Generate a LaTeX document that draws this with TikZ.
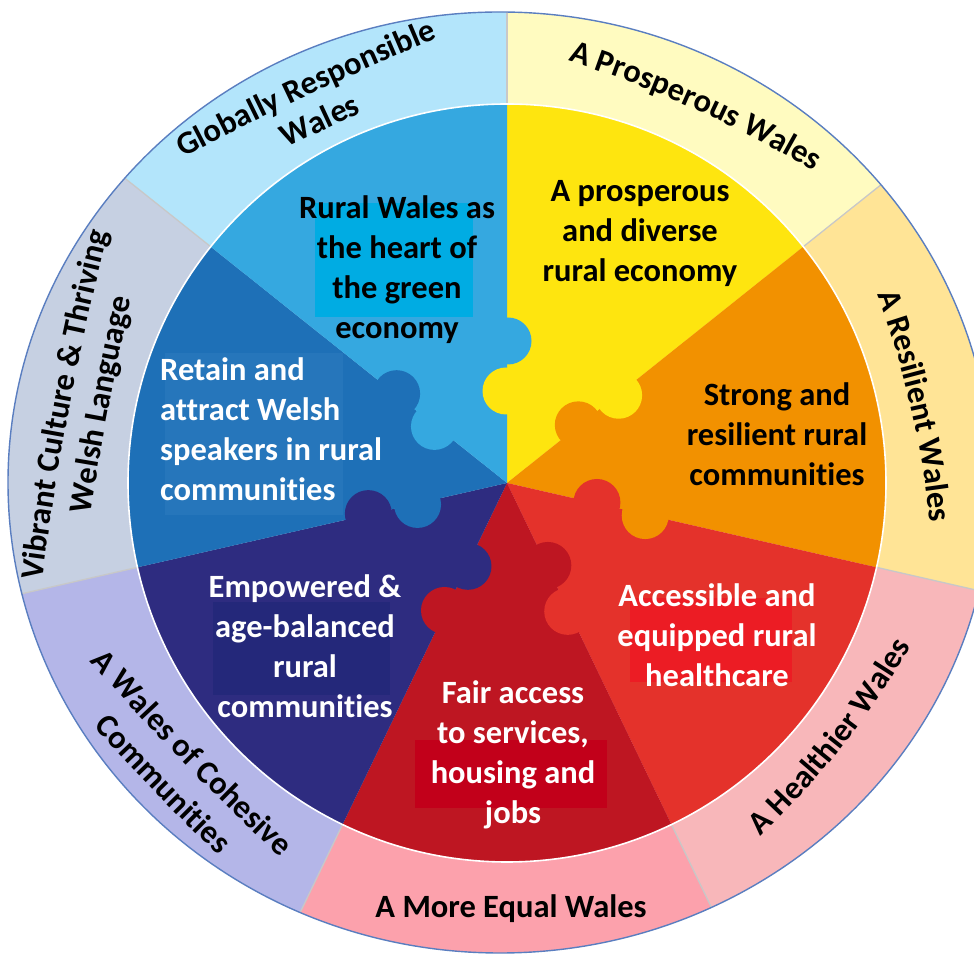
\documentclass[tikz,border=0pt]{standalone}
\usepackage{fontspec}
\setmainfont{Carlito}[Ligatures=NoCommon]
\usetikzlibrary{calc,decorations.text}

\definecolor{rGlob}{HTML}{B3E5FB}
\definecolor{rPros}{HTML}{FFFBC0}
\definecolor{rResil}{HTML}{FFE496}
\definecolor{rHealth}{HTML}{F8B7BA}
\definecolor{rEqual}{HTML}{FCA1AC}
\definecolor{rCohes}{HTML}{B4B6E8}
\definecolor{rVibr}{HTML}{C6D0E2}
\definecolor{pLB}{HTML}{35A8E0}
\definecolor{pYel}{HTML}{FEE50F}
\definecolor{pOra}{HTML}{F29100}
\definecolor{pRed}{HTML}{E4322B}
\definecolor{pDRed}{HTML}{BE1622}
\definecolor{pNavy}{HTML}{2E2C80}
\definecolor{pBlue}{HTML}{1E70B7}
\definecolor{bLB}{HTML}{00ACE3}
\definecolor{bRed}{HTML}{EC1C24}
\definecolor{bDRed}{HTML}{C2001A}
\definecolor{bNavy}{HTML}{24287A}
\definecolor{bBlue}{HTML}{2676BB}
\definecolor{sepgrey}{HTML}{C8C8C8}
\definecolor{ringline}{HTML}{5A7EC0}

\newcommand\ringfont{\bfseries\fontsize{32.5}{36}\selectfont}
% text along a gently curved arc: centre (x,y), direction phi, curvature radius rho
% \rtR : tops pointing outwards (path turns right), \rtL : tops pointing inwards
\newcommand\rtR[5]{%
  \pgfmathsetmacro\rtD{330/#4*57.2958}%
  \path[decorate,decoration={text along path,text align=center,text={|\ringfont|#5}}]
    ($(#1,#2)+({#3-90}:#4)+({#3+90+\rtD}:#4)$)
    arc[start angle={#3+90+\rtD},end angle={#3+90-\rtD},radius=#4pt];}
\newcommand\rtL[5]{%
  \pgfmathsetmacro\rtD{330/#4*57.2958}%
  \path[decorate,decoration={text along path,text align=center,text={|\ringfont|#5}}]
    ($(#1,#2)+({#3+90}:#4)+({#3-90-\rtD}:#4)$)
    arc[start angle={#3-90-\rtD},end angle={#3-90+\rtD},radius=#4pt];}

\tikzset{
  itext/.style={font=\bfseries\fontsize{32.5}{40}\selectfont, align=center, inner sep=0pt},
  sepline/.style={draw=sepgrey, line width=1.3pt},
  outline/.style={draw=ringline, line width=1.4pt}
}

\begin{document}
\begin{tikzpicture}[x=1pt,y=1pt]
\useasboundingbox (0,0) rectangle (974,955);
\clip (0,0) rectangle (974,955);
\coordinate (O) at (507,472);
\coordinate (E) at (500,472.5);

% outer ring
\begin{scope}
  \clip (E) ellipse[x radius=492pt, y radius=470.5pt];
  \foreach \a/\b/\c in {90/141.4286/rGlob, 38.5714/90/rPros, -12.8571/38.5714/rResil,
      -64.2857/-12.8571/rHealth, -115.7143/-64.2857/rEqual, -167.1429/-115.7143/rCohes,
      141.4286/192.8571/rVibr}
    \fill[\c] (O) -- ($(O)+(\a:700)$) arc[start angle=\a, end angle=\b, radius=700pt] -- cycle;
  \foreach \a in {90,38.5714,-12.8571,-64.2857,-115.7143,-167.1429,141.4286}
    \draw[sepline] ($(O)+(\a:370)$) -- ($(O)+(\a:700)$);
\end{scope}
\draw[outline] (E) ellipse[x radius=492pt, y radius=470.5pt];

% inner puzzle disc
\foreach \a/\b/\c in {38.5714/90/pYel, -12.8571/38.5714/pOra, -64.2857/-12.8571/pRed,
    -115.7143/-64.2857/pDRed, -167.1429/-115.7143/pNavy, 141.4286/192.8571/pBlue,
    90/141.4286/pLB}
  \fill[\c] (O) -- ($(O)+(\a:379)$) arc[start angle=\a, end angle=\b, radius=379pt] -- cycle;
\foreach \b/\cw/\cc in {90/pYel/pLB, 38.5714/pOra/pYel, -12.8571/pRed/pOra,
    -64.2857/pDRed/pRed, -115.7143/pNavy/pDRed, -167.1429/pBlue/pNavy, 141.4286/pLB/pBlue}{
  \fill[\cw] ($(O)+(\b:92)+({\b+90}:1)$) circle[radius=23.5pt];
  \fill[\cc] ($(O)+(\b:142)+({\b-90}:1)$) circle[radius=23.5pt];
}
\draw[white, line width=1.6pt] (O) circle[radius=379pt];

% text backgrounds
\fill[bLB] (315,638) rectangle (473,752);
\fill[bRed] (630,273) rectangle (792,357);
\fill[bDRed] (415,147) rectangle (607,215);
\fill[bNavy] (213,260) rectangle (390,353);
\fill[bBlue] (165,440) rectangle (343,602);

% inner texts
\node[itext, text=black] (tLB) at (397,685) {Rural Wales as\\the heart of\\the green\\economy};
\node[itext, text=black] (tY) at (640,721) {A prosperous\\and diverse\\rural economy};
\node[itext, text=black] (tO) at (777,521) {Strong and\\resilient rural\\communities};
\node[itext, text=white] (tR) at (717,320) {Accessible and\\equipped rural\\healthcare};
\node[itext, text=white] (tDR) at (513,200) {Fair access\\to services,\\housing and\\jobs};
\node[itext, text=white] (tN) at (305,309) {Empowered \&\\age-balanced\\rural\\communities};
\node[itext, text=white, align=left, anchor=west] (tB) at (160,526) {Retain and\\attract Welsh\\speakers in rural\\communities};

% ring texts
\rtR{309}{860}{25.1}{3000}{Globally Responsible}
\rtR{324}{825}{25.1}{3000}{Wales}
\rtR{694}{846}{-24.3}{1200}{A Prosperous Wales}
\rtR{911}{548}{-77}{950}{A Resilient Wales}
\rtL{842}{208}{51.7}{900}{A Healthier Wales}
\rtL{183}{193}{-45.8}{3000}{A Wales of Cohesive}
\rtL{155}{163}{-45.8}{3000}{Communities}
\rtR{70}{549}{79.2}{3000}{Vibrant Culture {\&} Thriving}
\rtR{109}{549}{79.2}{3000}{Welsh Language}
\node[font=\ringfont, anchor=base, inner sep=0pt] (tEq) at (511,37) {A More Equal Wales};
\end{tikzpicture}
\end{document}
